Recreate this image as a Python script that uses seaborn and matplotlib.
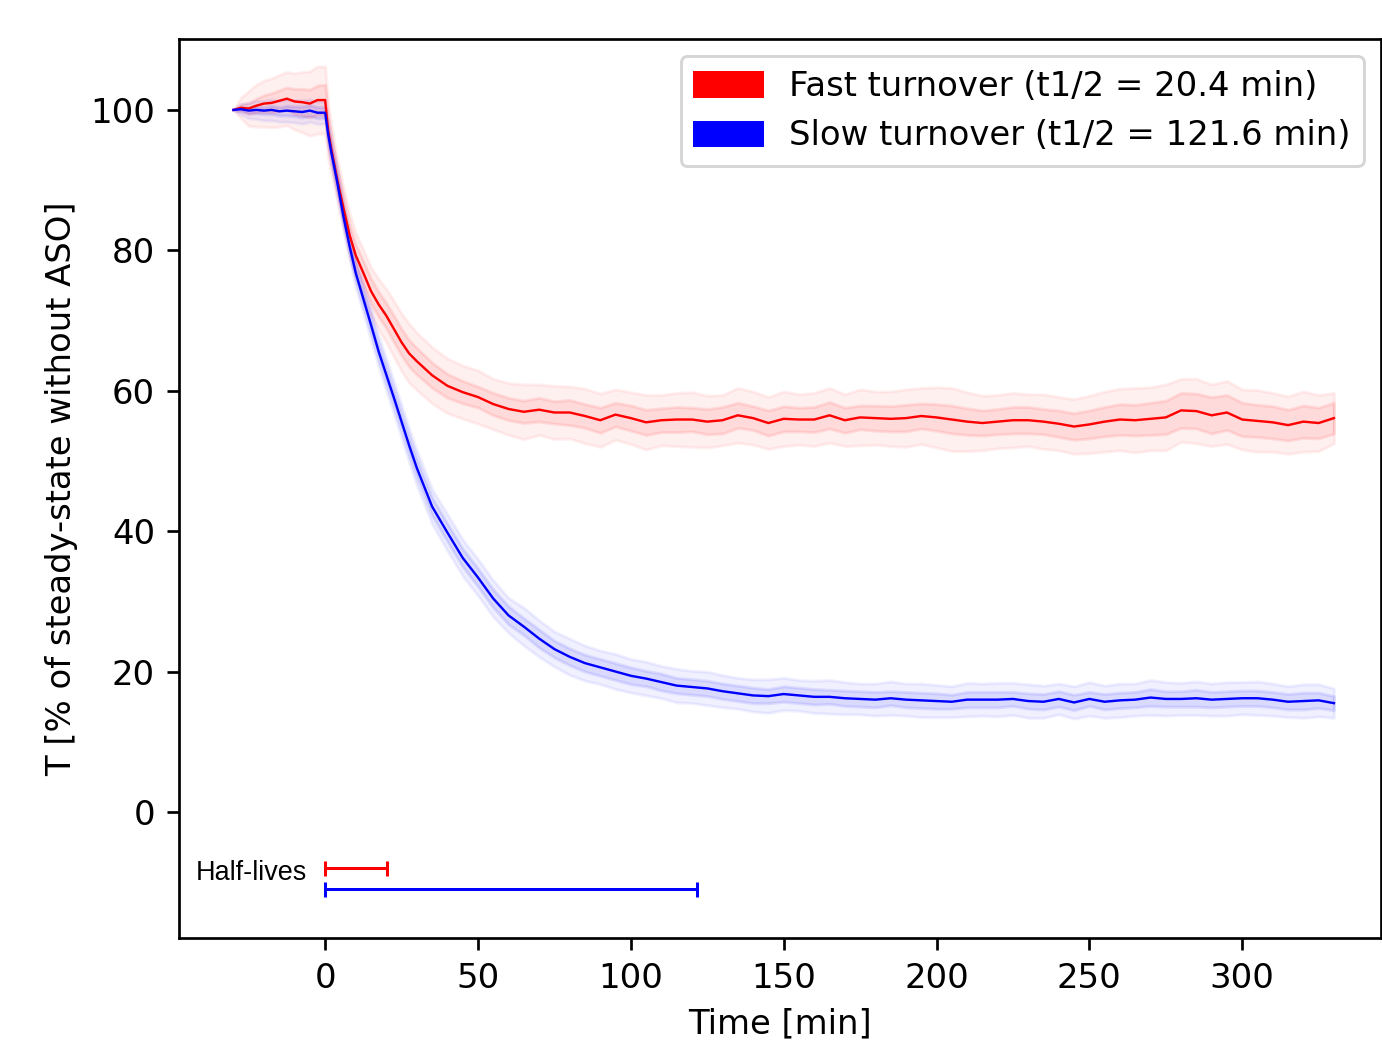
import matplotlib
matplotlib.use("Agg")
import matplotlib.pyplot as plt
import matplotlib.patches as mpatches
import numpy as np
import pandas as pd
import seaborn as sns

# time grid [min], shared by both conditions (ASO added at t = 0)
time = [-30, -27.5, -25, -22.5, -20, -17.5, -15, -12.5, -10, -7.5, -5, -2.5,
        0, 1, 2, 4, 6, 8, 10, 12.5, 15, 17.5, 20, 22.5, 25, 27.5, 30,
        35, 40, 45, 50, 55, 60, 65, 70, 75, 80, 85, 90, 95, 100,
        105, 110, 115, 120, 125, 130, 135, 140, 145, 150, 155, 160, 165,
        170, 175, 180, 185, 190, 195, 200, 205, 210, 215, 220, 225, 230,
        235, 240, 245, 250, 255, 260, 265, 270, 275, 280, 285, 290, 295,
        300, 305, 310, 315, 320, 325, 330]

fast_mean = [100.0, 100.3, 100.2, 100.6, 100.9, 101.0, 101.3, 101.6, 101.2, 101.1, 100.9, 101.4,
             101.4, 97.0, 94.5, 90.0, 86.0, 82.2, 79.3, 76.8, 74.2, 72.3, 70.7, 68.8, 66.9, 65.3, 64.2,
             62.2, 60.7, 59.8, 59.1, 58.1, 57.4, 57.0, 57.3, 56.9, 56.9, 56.4, 55.8, 56.6, 56.1,
             55.5, 55.8, 55.9, 55.9, 55.6, 55.8, 56.5, 56.1, 55.4, 56.0, 55.9, 55.9, 56.5,
             55.8, 56.2, 56.1, 56.0, 56.1, 56.4, 56.2, 55.9, 55.6, 55.4, 55.6, 55.8, 55.8,
             55.6, 55.3, 54.9, 55.2, 55.6, 55.9, 55.8, 56.0, 56.2, 57.2, 57.1, 56.5, 56.9,
             55.9, 55.7, 55.5, 55.1, 55.6, 55.4, 56.1]
fast_inner = [0.0, 0.5, 0.8, 1.0, 1.2, 1.4, 1.5, 1.6, 1.8, 1.9, 2.0, 2.1,
              2.2, 2.0, 1.8, 1.6, 1.6, 1.6, 1.6, 1.7, 1.8, 1.8, 1.8, 1.9, 1.9, 1.9, 1.9,
              1.8, 1.7, 1.6, 1.5, 1.6, 1.6, 1.6, 1.7, 1.6, 1.8, 1.7, 1.8, 1.7, 1.8,
              1.8, 1.7, 1.8, 1.7, 1.8, 1.9, 1.8, 1.7, 1.8, 1.8, 1.7, 1.8, 1.9,
              1.8, 1.7, 1.8, 1.8, 1.9, 1.8, 1.9, 2.0, 1.9, 1.8, 1.8, 1.9, 1.9,
              1.8, 1.9, 1.9, 2.0, 2.1, 2.2, 2.2, 2.3, 2.4, 2.5, 2.5, 2.6, 2.5,
              2.4, 2.3, 2.3, 2.2, 2.3, 2.2, 2.2]
fast_outer = [0.0, 1.5, 2.5, 3.0, 3.3, 3.5, 3.7, 3.8, 4.0, 4.3, 4.6, 4.8,
              4.8, 4.0, 3.5, 3.0, 3.0, 3.1, 3.2, 3.3, 3.4, 3.6, 3.8, 4.0, 4.1, 4.2, 4.1,
              4.0, 3.9, 3.8, 3.8, 3.6, 3.7, 3.9, 3.6, 3.8, 3.7, 3.9, 3.8, 3.6, 3.7,
              3.9, 3.6, 3.8, 3.9, 3.7, 3.6, 3.9, 3.8, 3.7, 3.9, 3.6, 3.8, 3.9,
              3.7, 4.0, 3.8, 3.9, 4.1, 4.0, 4.3, 4.5, 4.2, 3.9, 3.8, 3.9, 3.7,
              3.9, 3.8, 3.9, 4.1, 4.3, 4.4, 4.6, 4.5, 4.7, 4.5, 4.6, 4.4, 4.5,
              4.3, 4.4, 4.2, 4.1, 4.3, 4.0, 3.6]

slow_mean = [100.0, 100.1, 99.9, 100.0, 99.9, 100.0, 99.8, 99.9, 99.8, 99.7, 99.9, 99.6,
             99.6, 96.5, 94.0, 89.6, 84.8, 80.6, 76.8, 73.1, 69.4, 65.6, 62.3, 59.0, 55.6, 52.2, 49.0,
             43.5, 39.8, 36.2, 33.4, 30.4, 28.0, 26.4, 24.7, 23.2, 22.1, 21.2, 20.6, 20.0, 19.4,
             19.0, 18.5, 18.0, 17.8, 17.6, 17.2, 16.9, 16.6, 16.5, 16.8, 16.6, 16.4, 16.4,
             16.2, 16.1, 16.0, 16.2, 16.0, 15.9, 15.8, 15.7, 16.0, 16.0, 16.0, 16.1, 15.8,
             15.7, 16.1, 15.6, 16.1, 15.7, 15.9, 16.0, 16.3, 16.1, 16.1, 16.2, 16.0, 16.1,
             16.2, 16.2, 16.0, 15.7, 15.8, 15.9, 15.5]
slow_inner = [0.0, 0.3, 0.4, 0.5, 0.5, 0.6, 0.6, 0.7, 0.7, 0.8, 0.8, 0.8,
              0.8, 0.9, 1.0, 1.0, 1.0, 1.0, 1.0, 1.1, 1.1, 1.1, 1.2, 1.2, 1.2, 1.3, 1.3,
              1.3, 1.3, 1.3, 1.3, 1.3, 1.3, 1.2, 1.3, 1.2, 1.2, 1.2, 1.2, 1.2, 1.2,
              1.1, 1.2, 1.1, 1.1, 1.1, 1.1, 1.1, 1.1, 1.0, 1.1, 1.1, 1.1, 1.0,
              1.1, 1.1, 1.1, 1.0, 1.1, 1.1, 1.1, 1.0, 1.1, 1.1, 1.1, 1.0, 1.1,
              1.1, 1.1, 1.1, 1.0, 1.1, 1.1, 1.1, 1.2, 1.1, 1.1, 1.2, 1.1, 1.1,
              1.1, 1.1, 1.1, 1.1, 1.2, 1.1, 1.0]
slow_outer = [0.0, 0.8, 1.1, 1.3, 1.4, 1.5, 1.5, 1.6, 1.6, 1.7, 1.6, 1.6,
              1.6, 1.8, 1.9, 2.0, 2.0, 2.0, 2.1, 2.1, 2.2, 2.2, 2.3, 2.3, 2.4, 2.4, 2.5,
              2.5, 2.6, 2.6, 2.6, 2.6, 2.5, 2.7, 2.6, 2.5, 2.6, 2.5, 2.4, 2.5, 2.4,
              2.4, 2.3, 2.4, 2.3, 2.4, 2.3, 2.2, 2.3, 2.4, 2.3, 2.2, 2.3, 2.4,
              2.3, 2.2, 2.3, 2.4, 2.3, 2.4, 2.3, 2.2, 2.4, 2.3, 2.4, 2.3, 2.4,
              2.3, 2.2, 2.3, 2.4, 2.3, 2.4, 2.3, 2.5, 2.4, 2.3, 2.4, 2.3, 2.4,
              2.3, 2.4, 2.3, 2.2, 2.4, 2.3, 2.1]

half_lives = [20.4, 121.6]
half_life_y = [-8, -11]
labels = ["Fast turnover (t1/2 = 20.4 min)", "Slow turnover (t1/2 = 121.6 min)"]
colors = ["red", "blue"]

df = pd.DataFrame({
    "time": time * 2,
    "T": fast_mean + slow_mean,
    "inner": fast_inner + slow_inner,
    "outer": fast_outer + slow_outer,
    "cond": ["fast"] * len(time) + ["slow"] * len(time),
})

FS = 11.3

fig = plt.figure(figsize=(1382 / 216, 1052 / 216), dpi=216)
ax = fig.add_axes([179 / 1382, 1 - 938 / 1052, 1202 / 1382, 899 / 1052])

for cond, col in zip(["fast", "slow"], colors):
    d = df[df["cond"] == cond]
    ax.fill_between(d["time"], d["T"] - d["outer"], d["T"] + d["outer"],
                    color=col, alpha=0.06, lw=1)
    ax.fill_between(d["time"], d["T"] - d["inner"], d["T"] + d["inner"],
                    color=col, alpha=0.09, lw=1)

sns.lineplot(data=df, x="time", y="T", hue="cond", palette=colors,
             linewidth=0.8, legend=False, ax=ax)

# half-life bars
for hl, y, col in zip(half_lives, half_life_y, colors):
    ax.errorbar(hl / 2, y, xerr=hl / 2, color=col, lw=1.0, capsize=2.5, capthick=1.0)
ax.text(-6, -8.7, "Half-lives", ha="right", va="center", fontsize=9,
        family="Liberation Sans")

handles = [mpatches.Patch(color=c, label=l) for c, l in zip(colors, labels)]
ax.legend(handles=handles, loc="upper right", fontsize=FS)

ax.set_xlim(-47.8, 345.4)
ax.set_ylim(-17.95, 110.1)
ax.set_xticks([0, 50, 100, 150, 200, 250, 300])
ax.set_yticks([0, 20, 40, 60, 80, 100])
ax.tick_params(labelsize=FS, length=4, width=0.9, pad=4)
for sp in ax.spines.values():
    sp.set_linewidth(0.9)
ax.set_xlabel("Time [min]", fontsize=FS)
ax.set_ylabel("T [% of steady-state without ASO]", fontsize=FS)

fig.savefig("out.png", dpi=216)
